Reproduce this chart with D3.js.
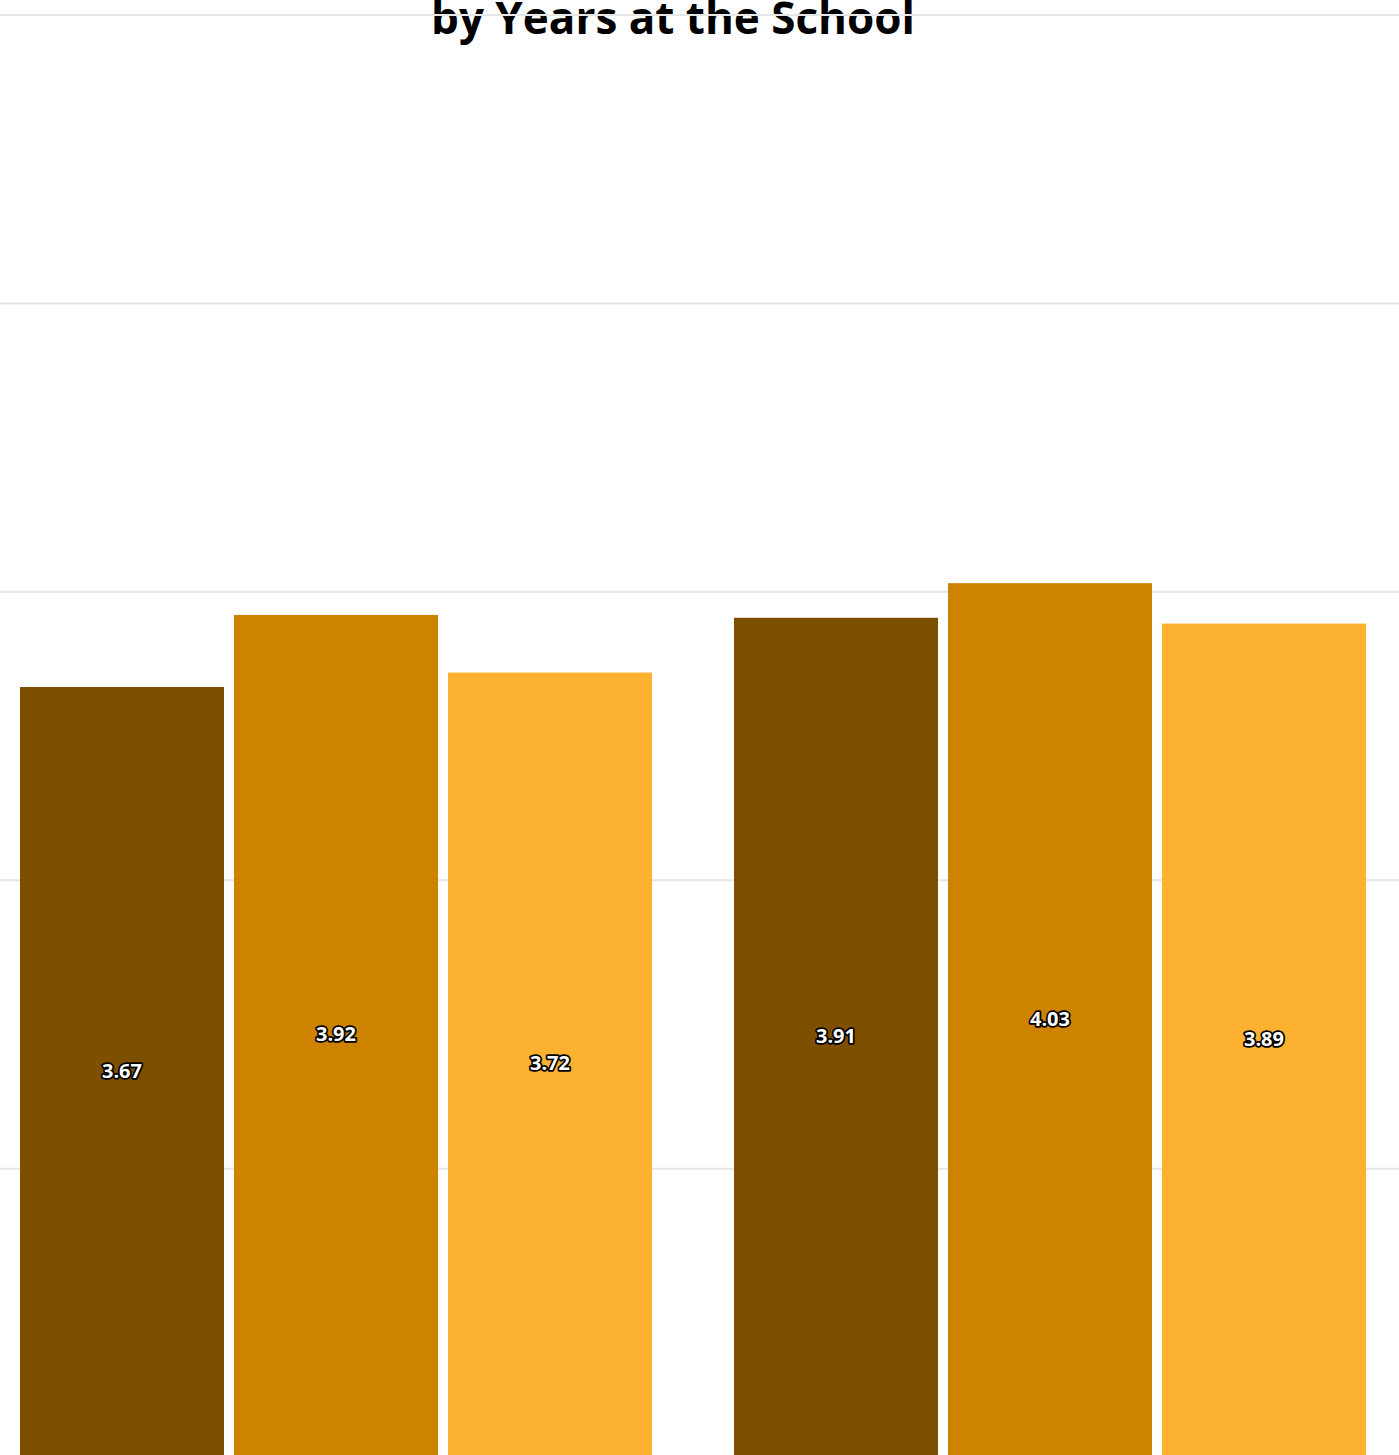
<!DOCTYPE html>
<html>
<head>
<meta charset="utf-8">
<script src="https://cdn.jsdelivr.net/npm/d3@7"></script>
<style>
  html, body { margin: 0; padding: 0; background: #ffffff; overflow: hidden; }
  svg { display: block; }
</style>
</head>
<body>
<div id="chart"></div>
<script>
// Mean rating by years at the school, two groups of three series
const categories = ["Group 1", "Group 2"];
const seriesNames = ["Series A", "Series B", "Series C"];
const seriesColors = ["#7f4f00", "#ce8300", "#fdb131"];
const values = [
  [3.67, 3.92, 3.72],
  [3.91, 4.03, 3.89]
];
const gridTicks = [0, 1, 2, 3, 4, 5, 6];
const titleText = "by Years at the School";

const W = 1399, H = 1455;

const svg = d3.select("#chart").append("svg")
  .attr("width", W).attr("height", H);

// value scale: plot runs past the bottom of the visible frame
const y = d3.scaleLinear().domain([0, 6]).range([1745.5, 15]);

// outer band per category, inner band per series
const x0 = d3.scaleBand().domain(categories).range([-21, 1407]).padding(0);
const innerStep = 214, innerBar = 204;
const pInner = (innerStep - innerBar) / innerStep;
const pOuter = (x0.bandwidth() / innerStep - (seriesNames.length - pInner)) / 2;
const x1 = d3.scaleBand().domain(seriesNames).range([0, x0.bandwidth()])
  .paddingInner(pInner).paddingOuter(pOuter);
const color = d3.scaleOrdinal().domain(seriesNames).range(seriesColors);

// title (its first line sits above the frame)
svg.append("text")
  .attr("x", 673).attr("y", 34)
  .attr("text-anchor", "middle")
  .attr("font-family", "'Open Sans', sans-serif")
  .attr("font-weight", 700)
  .attr("font-size", 44)
  .attr("fill", "#000")
  .text(titleText);

// horizontal grid
svg.append("g").selectAll("line")
  .data(gridTicks)
  .join("line")
  .attr("x1", 0).attr("x2", W)
  .attr("y1", d => y(d)).attr("y2", d => y(d))
  .attr("stroke", "#e6e6e6")
  .attr("stroke-width", 2);

// bars
const groups = svg.append("g").selectAll("g")
  .data(categories)
  .join("g")
  .attr("transform", d => `translate(${x0(d)},0)`);

const cells = groups.selectAll("g")
  .data((c, i) => seriesNames.map((s, j) => ({ series: s, value: values[i][j] })))
  .join("g");

cells.append("rect")
  .attr("x", d => x1(d.series))
  .attr("width", x1.bandwidth())
  .attr("y", d => y(d.value))
  .attr("height", d => y(0) - y(d.value))
  .attr("fill", d => color(d.series));

// value labels centred in the visible part of each bar
cells.append("text")
  .attr("x", d => x1(d.series) + x1.bandwidth() / 2)
  .attr("y", d => (y(d.value) + Math.min(y(0), H)) / 2 - 1)
  .attr("text-anchor", "middle")
  .attr("dominant-baseline", "central")
  .attr("font-family", "'Open Sans', sans-serif")
  .attr("font-weight", 700)
  .attr("font-size", 20)
  .attr("fill", "#fff")
  .attr("stroke", "#000")
  .attr("stroke-width", 3.5)
  .attr("stroke-linejoin", "round")
  .attr("paint-order", "stroke")
  .text(d => d.value.toFixed(2));
</script>
</body>
</html>
